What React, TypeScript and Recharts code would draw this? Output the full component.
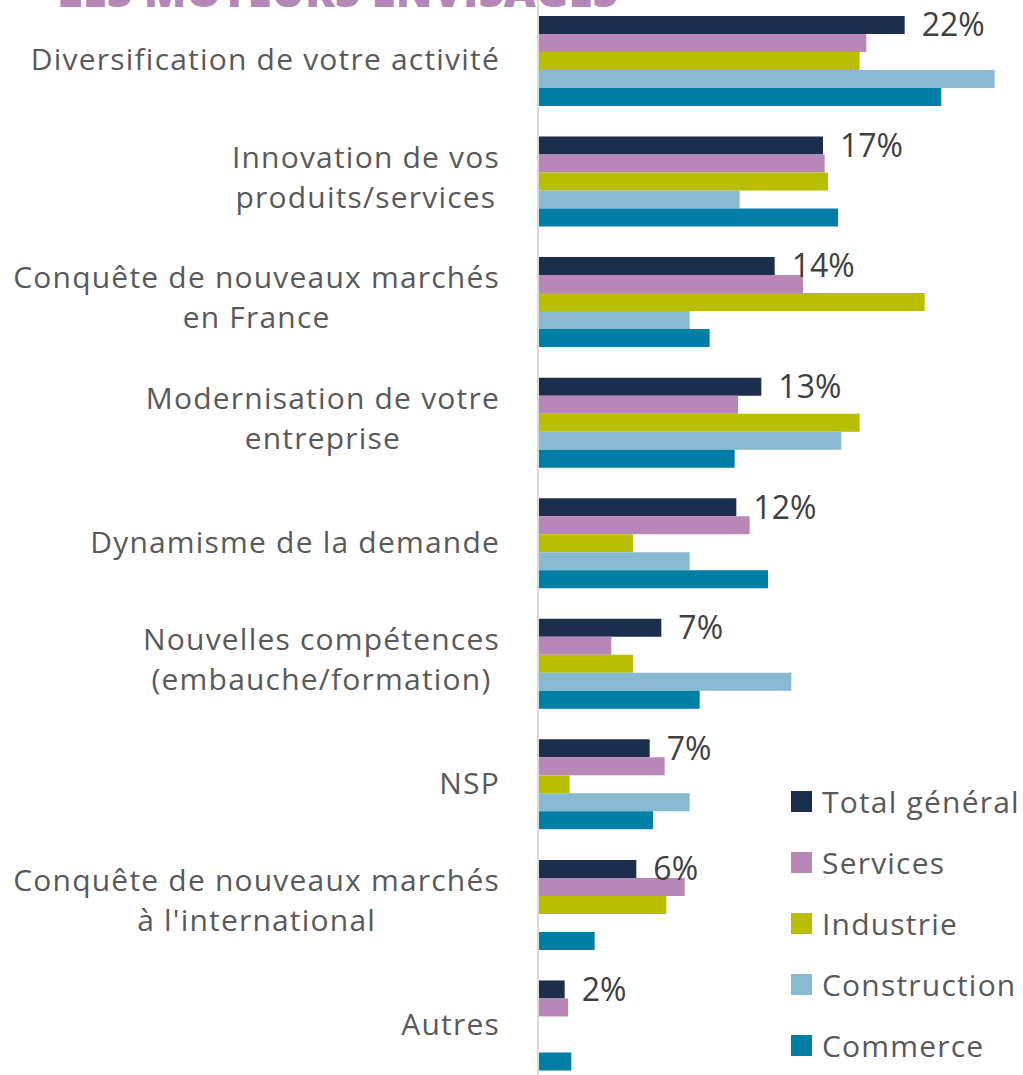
import React from 'react';
import { BarChart, Bar, XAxis, YAxis, Legend, LabelList } from 'recharts';

const categories = [
  'Diversification de votre activité',
  'Innovation de vos\nproduits/services',
  'Conquête de nouveaux marchés\nen France',
  'Modernisation de votre\nentreprise',
  'Dynamisme de la demande',
  'Nouvelles compétences\n(embauche/formation)',
  'NSP',
  'Conquête de nouveaux marchés\nà l\'international',
  'Autres',
];

const totalGeneral = [22.0, 17.1, 14.2, 13.4, 11.9, 7.4, 6.7, 5.9, 1.6];
const services = [19.7, 17.2, 15.9, 12.0, 12.7, 4.4, 7.6, 8.8, 1.8];
const industrie = [19.3, 17.4, 23.2, 19.3, 5.7, 5.7, 1.9, 7.7, 0];
const construction = [27.4, 12.1, 9.1, 18.2, 9.1, 15.2, 9.1, 0, 0];
const commerce = [24.2, 18.0, 10.3, 11.8, 13.8, 9.7, 6.9, 3.4, 2.0];

const seriesNames = ['Total général', 'Services', 'Industrie', 'Construction', 'Commerce'];
const seriesColors = ['#1b2e4c', '#b887b8', '#b9bf00', '#87b9d0', '#007ea6'];

const data = categories.map((name, i) => ({
  name,
  total: totalGeneral[i],
  services: services[i],
  industrie: industrie[i],
  construction: construction[i],
  commerce: commerce[i],
}));

const keys = ['total', 'services', 'industrie', 'construction', 'commerce'];

const FONT = '"Open Sans", Lato, sans-serif';
const LABEL_SIZE = 30;
const SPACING = 1.2;

let ctx: CanvasRenderingContext2D | null = null;
const measure = (s: string) => {
  if (!ctx) ctx = document.createElement('canvas').getContext('2d');
  if (!ctx) return s.length * (LABEL_SIZE * 0.55 + SPACING);
  ctx.font = `${LABEL_SIZE}px "Open Sans"`;
  return ctx.measureText(s).width + s.length * SPACING;
};

const CategoryTick = ({ x, y, payload }: any) => {
  const lines: string[] = String(payload.value).split('\n');
  if (lines.length === 1) {
    return (
      <text x={x} y={y + 10} textAnchor="end" fill="#595959" fontSize={LABEL_SIZE} fontFamily={FONT} letterSpacing={SPACING}>
        {lines[0]}
      </text>
    );
  }
  const maxW = Math.max(...lines.map(measure));
  const cx = x - maxW / 2;
  return (
    <text textAnchor="middle" fill="#595959" fontSize={LABEL_SIZE} fontFamily={FONT} letterSpacing={SPACING}>
      {lines.map((l, i) => (
        <tspan key={i} x={cx} y={y - 13 + i * 40}>
          {l}
        </tspan>
      ))}
    </text>
  );
};

const LegendContent = () => (
  <div style={{ fontFamily: FONT }}>
    {seriesNames.map((n, i) => (
      <div key={n} style={{ display: 'flex', alignItems: 'center', height: 61 }}>
        <div style={{ width: 21, height: 21, background: seriesColors[i], marginRight: 10, flexShrink: 0 }} />
        <span style={{ fontSize: 30, letterSpacing: SPACING, color: '#595959', lineHeight: '61px', whiteSpace: 'nowrap' }}>{n}</span>
      </div>
    ))}
  </div>
);

export default function App() {
  return (
    <div style={{ position: 'absolute', left: 0, top: 0, width: 1023, height: 1075, overflow: 'hidden', background: '#fff' }}>
      <svg width={1023} height={20} style={{ position: 'absolute', left: 0, top: 0, zIndex: 2 }}>
        <text
          x={57}
          y={7}
          textLength={561}
          lengthAdjust="spacingAndGlyphs"
          fontSize={44}
          fontWeight={800}
          fontFamily={FONT}
          fill="#b587b8"
        >
          LES MOTEURS ENVISAGÉS
        </text>
      </svg>
      <BarChart
        width={1023}
        height={1085}
        data={data}
        layout="vertical"
        margin={{ top: 0, right: 0, bottom: 0, left: 0 }}
        barCategoryGap={16}
        barGap={0}
      >
        <XAxis type="number" domain={[0, 29.1]} hide />
        <YAxis
          type="category"
          dataKey="name"
          width={538}
          tick={<CategoryTick />}
          tickLine={false}
          tickSize={0}
          tickMargin={38}
          axisLine={{ stroke: '#d9d9d9', strokeWidth: 2 }}
          interval={0}
        />
        {keys.map((k, i) => (
          <Bar key={k} dataKey={k} name={seriesNames[i]} fill={seriesColors[i]} isAnimationActive={false}>
            {k === 'total' && (
              <LabelList
                dataKey="total"
                position="right"
                offset={17}
                formatter={(v: any) => `${Math.round(Number(v))}%`}
                fill="#404040"
                fontSize={32}
                fontFamily={FONT}
              />
            )}
          </Bar>
        ))}
        <Legend
          layout="horizontal"
          verticalAlign="middle"
          align="center"
          content={<LegendContent />}
          wrapperStyle={{ left: 791, top: 771, width: 232 }}
        />
      </BarChart>
    </div>
  );
}
